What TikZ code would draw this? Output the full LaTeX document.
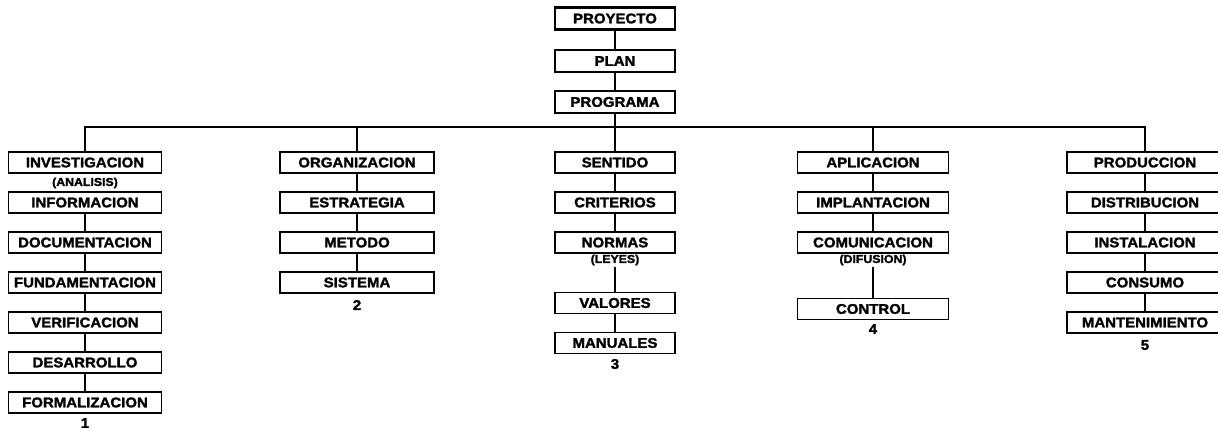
\documentclass[tikz,border=0pt]{standalone}
\usepackage{fontspec}
\setmainfont{Liberation Sans}[BoldFeatures={FakeBold=1.8,FakeStretch=1.07}]
\tikzset{
  box/.style={draw, line width=1.5pt, minimum height=21pt, inner sep=0pt,
              font=\fontsize{14}{15}\selectfont\bfseries},
  topbox/.style={box, minimum width=120pt, minimum height=22pt},
  sub/.style={font=\fontsize{11.5}{12}\selectfont\bfseries, inner sep=1pt},
  num/.style={font=\fontsize{14}{15}\selectfont\bfseries, inner sep=0pt},
  link/.style={line width=1.6pt},
  wA/.style={box, minimum width=153pt},
  wB/.style={box, minimum width=154pt},
  wC/.style={box, minimum width=120pt},
  wD/.style={box, minimum width=151pt},
  wE/.style={box, minimum width=156pt},
}
\begin{document}
\begin{tikzpicture}[x=1pt,y=-1pt]
\useasboundingbox (0,0) rectangle (1218,430);
% top
\node[topbox, line width=2.6pt] (p1) at (615,18.5) {PROYECTO};
\node[topbox] (p2) at (615,61) {PLAN};
\node[topbox] (p3) at (615,102) {PROGRAMA};
\coordinate (bus) at (615,127);
% column 1
\node[wA] (a1) at (85,162.5) {INVESTIGACION};
\node[sub] (a1s) at (85,183) {(ANALISIS)};
\node[wA] (a2) at (85,202.5) {INFORMACION};
\node[wA] (a3) at (85,242.5) {DOCUMENTACION};
\node[wA] (a4) at (85,282.5) {FUNDAMENTACION};
\node[wA] (a5) at (85,322.5) {VERIFICACION};
\node[wA] (a6) at (85,362.5) {DESARROLLO};
\node[wA] (a7) at (85,402.5) {FORMALIZACION};
\node[num] (an) at (85,423) {1};
% column 2
\node[wB] (b1) at (357,162.5) {ORGANIZACION};
\node[wB] (b2) at (357,202.5) {ESTRATEGIA};
\node[wB] (b3) at (357,242.5) {METODO};
\node[wB] (b4) at (357,282.5) {SISTEMA};
\node[num] (bn) at (357,305) {2};
% column 3
\node[wC] (c1) at (615,162.5) {SENTIDO};
\node[wC] (c2) at (615,202.5) {CRITERIOS};
\node[wC] (c3) at (615,242.5) {NORMAS};
\node[sub] (c3s) at (615,260) {(LEYES)};
\node[wC] (c4) at (615,303) {VALORES};
\node[wC] (c5) at (615,343) {MANUALES};
\node[num] (cn) at (615,364) {3};
% column 4
\node[wD] (d1) at (873,162.5) {APLICACION};
\node[wD] (d2) at (873,202.5) {IMPLANTACION};
\node[wD] (d3) at (873,242.5) {COMUNICACION};
\node[sub] (d3s) at (873,260) {(DIFUSION)};
\node[wD] (d4) at (873,309) {CONTROL};
\node[num] (dn) at (873,329) {4};
% column 5
\node[wE] (e1) at (1145,162.5) {PRODUCCION};
\node[wE] (e2) at (1145,202.5) {DISTRIBUCION};
\node[wE] (e3) at (1145,242.5) {INSTALACION};
\node[wE] (e4) at (1145,282.5) {CONSUMO};
\node[wE] (e5) at (1145,322.5) {MANTENIMIENTO};
\node[num] (en) at (1145,345) {5};
% connectors
\draw[link] (p1) -- (p2);
\draw[link] (p2) -- (p3);
\draw[link] (p3) -- (bus);
\draw[link] (a1.north) -- (a1.north |- bus) -- (e1.north |- bus) -- (e1.north);
\draw[link] (b1.north) -- (b1.north |- bus);
\draw[link] (c1.north) -- (bus);
\draw[link] (d1.north) -- (d1.north |- bus);
\foreach \u/\v in {a2/a3,a3/a4,a4/a5,a5/a6,a6/a7,
                   b1/b2,b2/b3,b3/b4,
                   c1/c2,c2/c3,c3s/c4,c4/c5,
                   d1/d2,d2/d3,d3s/d4,
                   e1/e2,e2/e3,e3/e4,e4/e5}
  \draw[link] (\u) -- (\v);
\end{tikzpicture}
\end{document}
